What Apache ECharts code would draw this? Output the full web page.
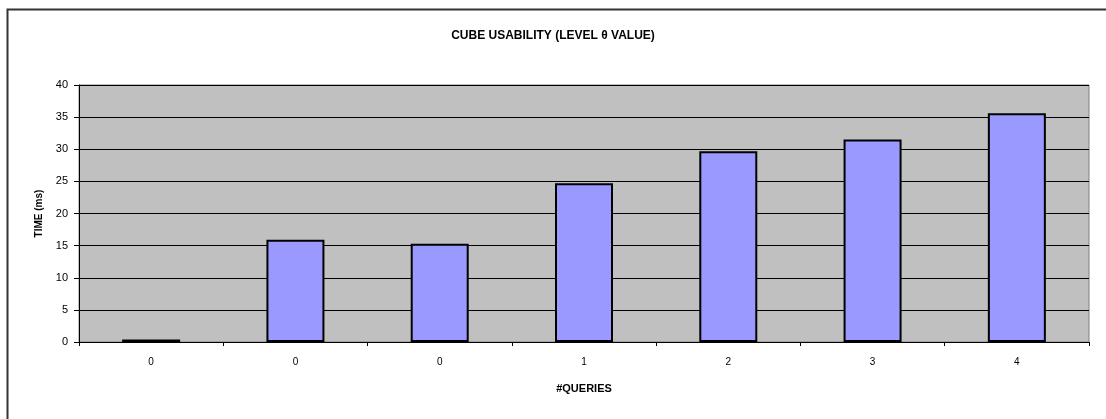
<!DOCTYPE html>
<html>
<head>
<meta charset="utf-8">
<style>
  html, body { margin: 0; padding: 0; background: #ffffff; }
  #chart { width: 1106px; height: 419px; }
</style>
<script src="https://cdn.jsdelivr.net/npm/echarts@6/dist/echarts.min.js"></script>
</head>
<body>
<div id="chart"></div>
<script>
// Query counts along the x axis and response time per run
const categories = ['0', '0', '0', '1', '2', '3', '4'];
const timeMs = [0.4, 15.9, 15.3, 24.7, 29.7, 31.5, 35.6];
const yTicks = { min: 0, max: 40, interval: 5 };

const FONT = 'Liberation Sans, Arial, sans-serif';
const chart = echarts.init(document.getElementById('chart'), null, { renderer: 'canvas' });

chart.setOption({
  animation: false,
  backgroundColor: '#ffffff',
  title: {
    text: 'CUBE USABILITY (LEVEL \u03B8 VALUE)',
    left: 'center',
    top: 25,
    textStyle: { fontFamily: FONT, fontSize: 12, fontWeight: 'bold', color: '#000000' }
  },
  graphic: [{
    type: 'rect',
    shape: { x: 7.5, y: 9.5, width: 1120, height: 430 },
    style: { fill: 'none', stroke: '#333333', lineWidth: 2 },
    silent: true
  }],
  grid: {
    left: 79,
    right: 17,
    top: 85,
    bottom: 77,
    show: true,
    backgroundColor: '#c0c0c0',
    borderColor: '#808080',
    borderWidth: 1
  },
  xAxis: {
    type: 'category',
    data: categories,
    name: '#QUERIES',
    nameLocation: 'middle',
    nameGap: 41,
    nameTextStyle: { fontFamily: FONT, fontSize: 11, fontWeight: 'bold', color: '#000000' },
    axisLine: { show: true, lineStyle: { color: '#000000', width: 1 } },
    axisTick: { show: true, alignWithLabel: false, length: 4, lineStyle: { color: '#000000' } },
    axisLabel: { margin: 15, fontFamily: FONT, fontSize: 10, color: '#000000' },
    splitLine: { show: false }
  },
  yAxis: {
    type: 'value',
    min: yTicks.min,
    max: yTicks.max,
    interval: yTicks.interval,
    name: 'TIME (ms)',
    nameLocation: 'middle',
    nameGap: 35,
    nameRotate: 90,
    nameTextStyle: { fontFamily: FONT, fontSize: 10, fontWeight: 'bold', color: '#000000' },
    axisLine: { show: true, lineStyle: { color: '#000000', width: 1 } },
    axisTick: { show: true, length: 5, lineStyle: { color: '#000000' } },
    axisLabel: { margin: 11, fontFamily: FONT, fontSize: 11, color: '#000000' },
    splitLine: { show: true, lineStyle: { color: '#000000', width: 1 } }
  },
  series: [{
    type: 'bar',
    data: timeMs,
    barWidth: 58,
    itemStyle: { color: '#9999ff', borderColor: '#000000', borderWidth: 2 }
  }]
});
</script>
</body>
</html>
